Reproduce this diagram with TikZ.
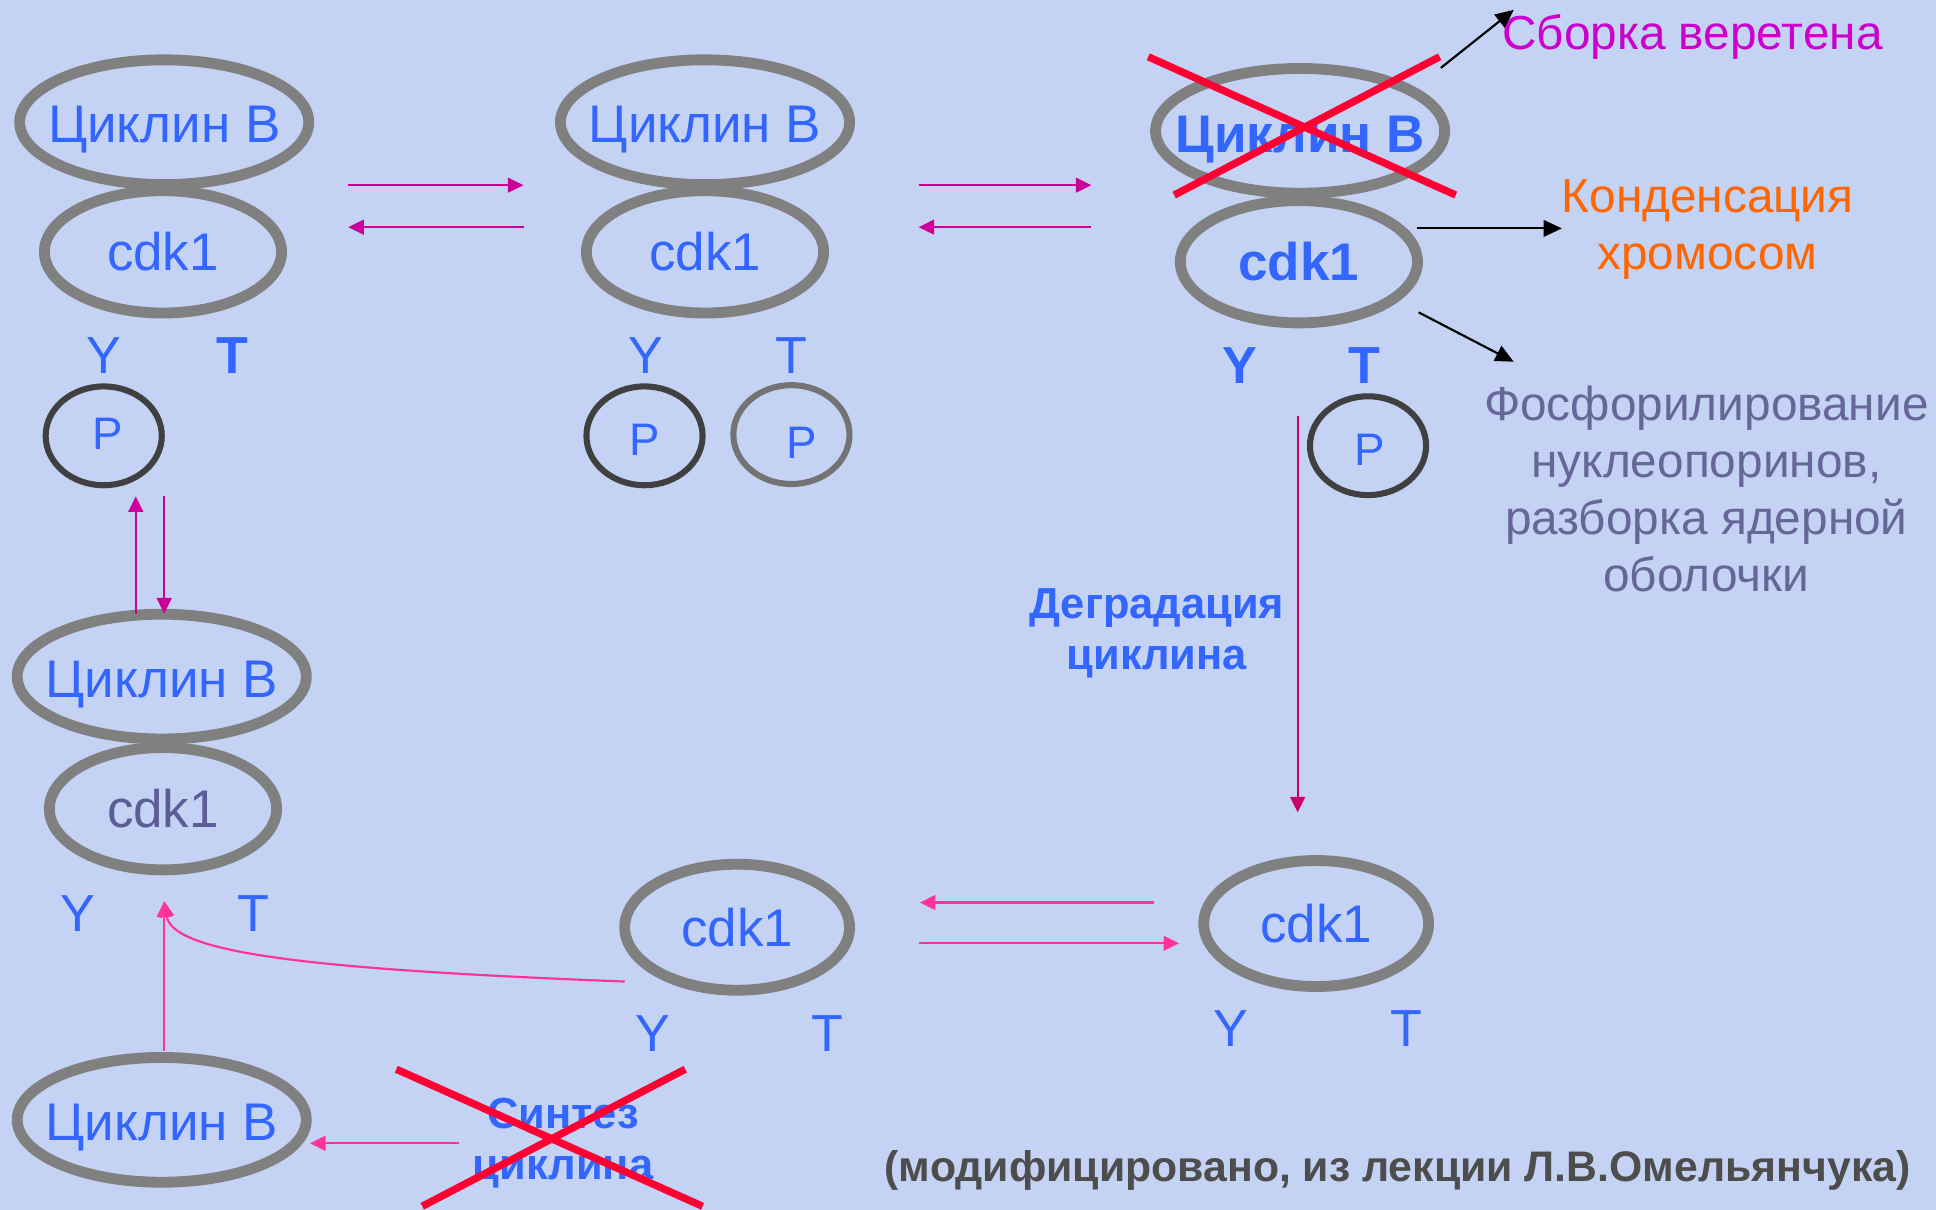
\documentclass[tikz,border=0pt]{standalone}
\usepackage{fontspec}
\setmainfont{Liberation Sans}
\usetikzlibrary{shapes.geometric,arrows.meta}

\definecolor{bgblue}{RGB}{196,210,244}
\definecolor{ringgray}{RGB}{128,128,128}
\definecolor{pdark}{RGB}{64,64,64}
\definecolor{plight}{RGB}{115,115,115}
\definecolor{labelblue}{RGB}{51,102,255}
\definecolor{arrmag}{RGB}{204,0,153}
\definecolor{arrpink}{RGB}{255,51,153}
\definecolor{arrcrim}{RGB}{204,0,102}
\definecolor{crossred}{RGB}{255,0,51}
\definecolor{spindle}{RGB}{204,0,204}
\definecolor{condense}{RGB}{255,102,0}
\definecolor{phospho}{RGB}{102,102,153}
\definecolor{slate}{RGB}{92,92,150}
\definecolor{credit}{RGB}{77,77,77}

% ring labels are set in zero-width boxes so that the ring keeps its own size
\newcommand{\ringtext}[1]{\makebox[0pt]{#1}}
% cyclin labels: zero-size box, baseline placed below the ring centre
\newcommand{\cyctext}[2][4.7pt]{\raisebox{-#1}[0pt][0pt]{\makebox[0pt]{#2}}}

\tikzset{
  cyc/.style={ellipse, draw=ringgray, line width=2.5pt, minimum width=2.34cm,
    minimum height=1.01cm, inner sep=0pt, text=labelblue,
    font=\fontsize{12.2}{14}\selectfont},
  kin/.style={cyc, minimum width=1.92cm, minimum height=0.99cm},
  kinsmall/.style={cyc, minimum width=1.82cm, minimum height=1.02cm},
  site/.style={text=labelblue, font=\fontsize{12}{14}\selectfont, inner sep=0pt},
  boldsite/.style={site, font=\fontsize{12}{14}\selectfont\bfseries},
  phos/.style={ellipse, draw=pdark, line width=1.4pt, minimum width=0.94cm,
    minimum height=0.80cm, inner sep=0pt},
  ptext/.style={text=labelblue, font=\fontsize{10.5}{12}\selectfont, inner sep=0pt},
  tipA/.style={-{Triangle[length=3.6pt,width=3.4pt]}},
  fwd/.style={draw=arrmag, line width=0.5pt, tipA},
  pinkarr/.style={draw=arrpink, line width=0.5pt, tipA},
  effect/.style={draw=black, line width=0.5pt, -{Triangle[length=4.2pt,width=3.8pt]}},
  cross/.style={draw=crossred, line width=1.7pt},
  sidetext/.style={font=\fontsize{11}{13.2}\selectfont, align=center, inner sep=0pt},
  steptext/.style={text=labelblue, font=\fontsize{10}{11.7}\selectfont\bfseries,
    align=center, inner sep=0pt}
}

\begin{document}
\begin{tikzpicture}[x=0.01cm, y=-0.01cm]
  % page and background
  \path[fill=bgblue, use as bounding box] (0,0) rectangle (1568,980);

  % ---- complex 1: cyclin B / cdk1, Y phosphorylated ----
  \node[cyc] (cycA) at (133,99) {\cyctext{Циклин B}};
  \node[kin] (kinA) at (132,204) {\ringtext{cdk1}};
  \node[site] (yA) at (84,288) {Y};
  \node[boldsite] (tA) at (188,288) {T};
  \node[phos] (pA) at (84,353) {};
  \node[ptext] (pAt) at (87,351) {P};

  % ---- complex 2: cyclin B / cdk1, Y and T phosphorylated ----
  \node[cyc] (cycB) at (571,99) {\cyctext{Циклин B}};
  \node[kin] (kinB) at (571,204) {\ringtext{cdk1}};
  \node[site] (yB) at (523,288) {Y};
  \node[site] (tB) at (641,288) {T};
  \node[phos] (pB1) at (522,353) {};
  \node[ptext] (pB1t) at (522,356) {P};
  \node[phos, draw=plight] (pB2) at (641,352) {};
  \node[ptext] (pB2t) at (649,359) {P};

  % ---- complex 3: active kinase, cyclin degraded ----
  \node[cyc, font=\fontsize{12.2}{14}\selectfont\bfseries] (cycC) at (1053,106) {\cyctext[5pt]{Циклин B}};
  \node[kin, font=\fontsize{12.2}{14}\selectfont\bfseries] (kinC) at (1052,212) {\ringtext{cdk1}};
  \node[boldsite] (yC) at (1004,296) {Y};
  \node[boldsite] (tC) at (1105,296) {T};
  \node[phos] (pC) at (1108,361) {};
  \node[ptext] (pCt) at (1109,364) {P};
  \draw[cross] (930,46) -- (1179,158);
  \draw[cross] (951,158) -- (1166,46);

  % ---- targets of the active kinase ----
  \node[sidetext, text=spindle, anchor=west] (spin) at (1216,30) {Сборка веретена};
  \node[sidetext, text=condense] (cond) at (1383,186) {Конденсация\\хромосом};
  \node[sidetext, text=phospho] (nuc) at (1382,396)
    {Фосфорилирование\\нуклеопоринов,\\разборка ядерной\\оболочки};

  \coordinate (eSpinS) at (1167,55);
  \coordinate (eSpinE) at (1226,8);
  \coordinate (eCondS) at (1148,185);
  \coordinate (eCondE) at (1265,185);
  \coordinate (eNucS) at (1149,253);
  \coordinate (eNucE) at (1226,293);
  \draw[effect] (eSpinS) -- (eSpinE);
  \draw[effect] (eCondS) -- (eCondE);
  \draw[effect] (eNucS) -- (eNucE);

  % ---- reversible steps between the top complexes ----
  \coordinate (r1a) at (282,150);
  \coordinate (r1b) at (424,150);
  \coordinate (r1c) at (424,184);
  \coordinate (r1d) at (282,184);
  \draw[fwd] (r1a) -- (r1b);
  \draw[fwd] (r1c) -- (r1d);
  \coordinate (r2a) at (744,150);
  \coordinate (r2b) at (884,150);
  \coordinate (r2c) at (884,184);
  \coordinate (r2d) at (744,184);
  \draw[fwd] (r2a) -- (r2b);
  \draw[fwd] (r2c) -- (r2d);

  % ---- cyclin degradation ----
  \coordinate (degS) at (1051,337);
  \coordinate (degE) at (1051,658);
  \draw[draw=arrcrim, line width=0.5pt, tipA] (degS) -- (degE);
  \node[steptext] (deg) at (937,513) {Деградация\\циклина};

  % ---- complex 4: unphosphorylated cyclin B / cdk1 ----
  \node[cyc] (cycD) at (131,548) {\cyctext{Циклин B}};
  \node[kin, minimum width=1.84cm, text=slate] (kinD) at (132,655) {\ringtext{cdk1}};
  \node[site] (yD) at (63,740) {Y};
  \node[site] (tD) at (205,740) {T};
  \coordinate (v1a) at (110,497);
  \coordinate (v1b) at (110,402);
  \coordinate (v2a) at (133,402);
  \coordinate (v2b) at (133,497);
  \draw[fwd] (v1a) -- (v1b);
  \draw[fwd] (v2a) -- (v2b);

  % ---- free kinase pair ----
  \node[kinsmall] (kinE) at (597,751) {\ringtext{cdk1}};
  \node[site] (yE) at (529,837) {Y};
  \node[site] (tE) at (670,837) {T};
  \node[kinsmall] (kinF) at (1066,748) {\ringtext{cdk1}};
  \node[site] (yF) at (997,833) {Y};
  \node[site] (tF) at (1139,833) {T};
  \coordinate (r3a) at (935,731);
  \coordinate (r3b) at (745,731);
  \coordinate (r3c) at (744,764);
  \coordinate (r3d) at (955,764);
  \draw[pinkarr] (r3a) -- (r3b);
  \draw[pinkarr] (r3c) -- (r3d);

  % ---- newly made cyclin B ----
  \node[cyc] (cycG) at (131,907) {\cyctext{Циклин B}};
  \coordinate (join) at (133,730);
  \coordinate (kinEout) at (506,795);
  \coordinate (cycGtop) at (133,851);
  \draw[pinkarr] (kinEout) .. controls (250,785) and (140,772) .. (join);
  \draw[pinkarr] (cycGtop) -- (join);

  % ---- blocked cyclin synthesis ----
  \node[steptext] (synth) at (456,926) {Синтез\\циклина};
  \coordinate (synS) at (372,926);
  \coordinate (cycGin) at (251,926);
  \draw[pinkarr] (synS) -- (cycGin);
  \draw[cross] (321,866) -- (569,977);
  \draw[cross] (555,866) -- (342,977);

  % ---- credit line ----
  \node[text=credit, font=\fontsize{9.85}{12}\selectfont\bfseries, anchor=east,
    inner sep=0pt] (credit) at (1548,948) {(модифицировано, из лекции Л.В.Омельянчука)};
\end{tikzpicture}
\end{document}
